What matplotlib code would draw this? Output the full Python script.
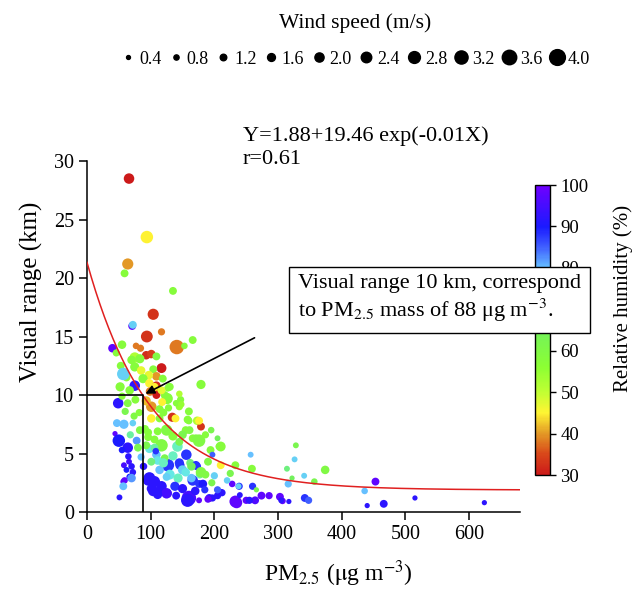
import matplotlib
matplotlib.use("Agg")
import matplotlib.pyplot as plt
from matplotlib.colors import LinearSegmentedColormap
from matplotlib.lines import Line2D
import numpy as np

plt.rcParams["font.family"] = ["Liberation Serif", "DejaVu Serif"]
plt.rcParams["mathtext.fontset"] = "stix"

# PM2.5 (ug m-3), visual range (km), relative humidity (%), wind speed (m/s)
pm25 = [66, 94, 64, 59, 135, 104, 71, 72, 117, 94, 166, 141, 40, 55, 46, 77, 84, 75, 153, 93,
        101, 109, 70, 83, 75, 53, 85, 117, 104, 109, 97, 88, 62, 57, 75, 52, 67, 98, 109, 99,
        108, 122, 119, 127, 179, 129, 147, 145, 160, 134, 139, 158, 173, 179, 155, 176, 166, 207, 205, 194,
        197, 257, 210, 233, 259, 142, 146, 162, 173, 186, 166, 176, 160, 176, 192, 210, 228, 233, 250, 264,
        274, 239, 328, 326, 374, 314, 341, 322, 316, 357, 260, 266, 286, 303, 307, 317, 342, 348, 255, 235,
        240, 453, 436, 515, 624, 466, 440, 305, 212, 238, 205, 197, 190, 158, 140, 127, 114, 101, 96, 51,
        57, 67, 72, 88, 85, 127, 145, 156, 171, 182, 205, 114, 130, 143, 164, 177, 164, 179, 190, 210,
        122, 171, 161, 176, 160, 126, 130, 109, 117, 101, 114, 101, 114, 111, 125, 96, 106, 117, 109, 98,
        91, 49, 64, 47, 58, 72, 74, 83, 44, 50, 64, 78, 80, 65, 66, 70, 59, 70, 89, 98,
        106, 117, 104, 125, 111, 96, 93, 106, 111, 101, 108, 120, 135, 150, 125, 155, 138, 150, 170, 185,
        196, 220, 225, 200, 150, 135, 145, 195, 186, 120, 128, 140, 118, 145, 148, 60, 55, 76, 82, 68,
        55, 58, 62, 57, 106, 93]
vis = [28.5, 23.5, 21.2, 20.4, 18.9, 16.9, 15.9, 16.0, 15.4, 15.0, 14.7, 14.1, 14.0, 14.3, 13.6, 14.2, 14.0, 13.2, 14.2, 13.4,
       13.5, 13.3, 13.0, 13.1, 12.4, 12.5, 12.1, 12.3, 12.2, 11.6, 11.7, 11.4, 11.5, 11.8, 10.8, 10.7, 10.4, 11.0, 10.8, 10.3,
       10.3, 10.0, 11.4, 10.6, 10.9, 10.7, 9.6, 9.0, 8.6, 8.1, 8.0, 7.9, 7.8, 7.3, 7.0, 6.1, 6.3, 5.6, 6.3, 5.3,
       4.9, 4.9, 4.0, 4.0, 3.7, 5.6, 4.0, 4.2, 3.9, 3.2, 2.7, 2.4, 1.2, 1.0, 1.2, 1.7, 2.4, 0.9, 1.0, 1.0,
       1.4, 2.2, 5.7, 4.5, 3.6, 3.7, 3.1, 2.9, 2.4, 2.6, 2.2, 1.9, 1.4, 1.3, 0.95, 0.9, 1.2, 1.0, 1.0, 0.8,
       1.45, 2.6, 1.8, 1.2, 0.8, 0.7, 0.55, 1.0, 1.65, 2.2, 1.4, 1.2, 1.1, 1.0, 1.4, 1.6, 1.7, 2.0, 2.7, 1.25,
       2.6, 3.0, 3.4, 3.9, 4.7, 4.0, 4.2, 4.9, 4.0, 2.4, 1.9, 3.6, 3.2, 2.9, 2.9, 3.2, 3.9, 3.4, 4.3, 5.6,
       4.6, 6.3, 7.0, 7.8, 7.8, 9.7, 10.7, 10.0, 10.4, 9.0, 8.8, 8.0, 8.0, 6.9, 7.0, 6.4, 6.2, 5.7, 4.9, 5.4,
       7.1, 9.3, 9.3, 7.6, 7.5, 7.6, 8.2, 7.0, 6.7, 6.1, 5.5, 6.1, 5.5, 4.75, 4.3, 3.9, 2.7, 2.9, 3.9, 2.9,
       2.6, 2.2, 1.8, 1.6, 1.5, 6.8, 5.7, 5.5, 4.4, 4.3, 5.2, 4.2, 4.8, 3.6, 3.0, 3.4, 2.2, 2.0, 1.8, 1.9,
       2.5, 2.7, 3.3, 3.1, 6.6, 6.5, 6.0, 7.0, 6.6, 8.5, 8.9, 9.3, 9.4, 10.1, 9.2, 8.6, 9.9, 9.6, 8.5, 6.6,
       5.3, 4.0, 3.6, 2.2, 10.7, 9.5]
rh = [30, 45, 40, 58, 58, 33, 98, 78, 38, 33, 58, 38, 98, 58, 58, 38, 38, 52, 58, 32,
      34, 60, 58, 58, 58, 58, 47, 30, 58, 40, 47, 58, 58, 78, 92, 58, 58, 45, 32, 38,
      40, 58, 58, 58, 58, 52, 58, 55, 58, 33, 45, 58, 52, 33, 58, 60, 58, 58, 65, 58,
      85, 80, 45, 58, 58, 72, 88, 68, 88, 60, 88, 88, 95, 98, 92, 92, 98, 98, 98, 96,
      98, 88, 62, 78, 60, 68, 78, 65, 80, 62, 88, 62, 98, 98, 98, 92, 88, 85, 92, 98,
      92, 98, 80, 92, 92, 92, 92, 92, 92, 78, 92, 92, 98, 92, 92, 92, 92, 92, 92, 92,
      98, 90, 92, 92, 80, 88, 88, 88, 88, 90, 85, 80, 75, 72, 80, 72, 65, 60, 60, 58,
      62, 60, 60, 45, 58, 58, 58, 30, 47, 40, 58, 45, 58, 58, 60, 58, 58, 60, 80, 75,
      58, 92, 60, 80, 80, 78, 60, 60, 98, 90, 92, 82, 62, 92, 95, 92, 98, 82, 92, 92,
      92, 92, 92, 95, 92, 58, 62, 70, 75, 68, 88, 72, 72, 78, 78, 75, 88, 92, 92, 88,
      62, 78, 62, 78, 62, 58, 62, 62, 58, 58, 58, 58, 45, 52, 55, 62, 58, 58, 58, 70,
      90, 95, 90, 80, 45, 42]
ws = [2.4, 3.0, 2.6, 1.6, 1.6, 2.6, 1.6, 1.6, 1.4, 2.8, 1.6, 3.6, 1.8, 1.8, 1.4, 1.2, 1.4, 2.4, 1.2, 1.8,
      1.8, 1.6, 1.8, 2.0, 2.0, 1.6, 1.8, 2.2, 1.6, 1.8, 1.8, 2.0, 1.6, 3.0, 2.4, 2.0, 1.8, 1.8, 1.8, 1.8,
      1.6, 1.6, 1.6, 1.4, 2.0, 1.4, 1.4, 1.4, 1.6, 2.0, 1.6, 1.6, 1.8, 1.6, 1.6, 3.0, 1.6, 1.2, 1.0, 1.6,
      1.0, 1.0, 1.6, 1.6, 1.6, 2.4, 2.0, 1.6, 1.6, 1.6, 2.4, 1.6, 3.6, 1.0, 1.6, 1.2, 1.2, 2.8, 1.4, 1.6,
      1.6, 1.4, 1.0, 1.0, 1.8, 1.0, 1.0, 0.8, 1.4, 1.2, 1.4, 0.8, 1.4, 1.6, 1.2, 0.8, 1.6, 1.4, 1.4, 2.6,
      1.0, 1.6, 1.2, 0.8, 0.8, 1.6, 0.8, 1.0, 1.4, 1.0, 1.4, 1.4, 1.4, 3.2, 1.6, 1.6, 1.6, 2.0, 2.4, 1.0,
      1.0, 1.2, 1.2, 1.2, 1.4, 3.0, 2.0, 2.4, 1.8, 1.8, 1.4, 1.8, 2.2, 2.0, 1.8, 1.6, 1.8, 2.4, 1.6, 2.2,
      1.6, 1.6, 1.6, 1.6, 1.4, 2.6, 1.6, 1.6, 1.6, 2.4, 1.6, 1.8, 1.6, 1.6, 2.6, 1.6, 1.6, 3.0, 1.8, 1.8,
      1.6, 2.4, 1.6, 1.6, 2.0, 1.2, 1.4, 1.6, 0.8, 3.0, 2.4, 1.6, 1.6, 1.2, 1.0, 1.2, 1.2, 1.8, 1.4, 2.8,
      2.6, 2.4, 2.4, 2.4, 2.0, 1.6, 1.6, 1.6, 1.8, 1.6, 1.2, 2.0, 2.0, 2.0, 1.6, 1.8, 2.0, 2.0, 1.8, 1.4,
      1.4, 1.2, 1.4, 1.4, 1.8, 2.0, 1.6, 1.2, 1.4, 1.6, 1.4, 1.2, 1.6, 1.2, 1.2, 1.4, 1.4, 1.6, 1.4, 1.4,
      1.2, 1.0, 1.0, 1.6, 1.6, 2.0]

legend_ws = [0.4, 0.8, 1.2, 1.6, 2.0, 2.4, 2.8, 3.2, 3.6, 4.0]

# fit: Y = a + b*exp(-k*X)
fit_a, fit_b, fit_k = 1.88, 19.46, 0.01
vr_target, pm_at_target = 10, 88


def marker_pt(w):
    # marker diameter in points for a wind speed
    return (2.6 + 3.3 * np.asarray(w)) * 0.72


rh_nodes = [30, 35, 40, 45, 50, 56, 66, 74, 80, 85, 90, 100]
rh_colors = ["#cc1a1a", "#d9481a", "#e39a26", "#fff533", "#c0ff33", "#8cff33",
             "#70f060", "#66f0e0", "#66c0ff", "#4060ff", "#1a1aff", "#7000ff"]
cmap = LinearSegmentedColormap.from_list(
    "rh", [((v - 30) / 70, c) for v, c in zip(rh_nodes, rh_colors)])

fig = plt.figure(figsize=(6.42, 5.92), dpi=100)
ax = fig.add_axes([0.1355, 0.1351, 0.6745, 0.5929])

sc = ax.scatter(pm25, vis, s=marker_pt(ws) ** 2, c=rh, cmap=cmap, vmin=30, vmax=100,
                edgecolors="none", zorder=2)

xs = np.linspace(0, 680, 400)
ax.plot(xs, fit_a + fit_b * np.exp(-fit_k * xs), color="#e02020", lw=1.1, zorder=3)

ax.plot([0, pm_at_target, pm_at_target], [vr_target, vr_target, 0], color="black", lw=1.2, zorder=3)
ax.annotate("", xy=(pm_at_target, vr_target), xytext=(267, 15),
            arrowprops=dict(arrowstyle="-|>", color="black", lw=1.2, mutation_scale=13), zorder=4)

ax.text(245, 32.1, "Y=1.88+19.46 exp(-0.01X)", fontsize=16, va="center")
ax.text(245, 30.1, "r=0.61", fontsize=16, va="center")

ax.set_xlim(0, 680)
ax.set_ylim(0, 30)
ax.set_xticks(range(0, 601, 100))
ax.set_yticks(range(0, 31, 5))
ax.spines["top"].set_visible(False)
ax.spines["right"].set_visible(False)
for sp in ["left", "bottom"]:
    ax.spines[sp].set_linewidth(1.1)
ax.tick_params(direction="out", length=6, width=1.1, labelsize=14.5)
ax.set_xlabel(r"PM$_{2.5}$ ($\mathrm{\mu}$g m$^{\mathrm{-3}}$)", fontsize=17, labelpad=10)
ax.set_ylabel("Visual range (km)", fontsize=18, labelpad=8)
ax.xaxis.label.set_x(0.58)
ax.yaxis.label.set_y(0.627)

cax = fig.add_axes([0.8333, 0.1976, 0.0234, 0.4899])
cb = fig.colorbar(sc, cax=cax, ticks=range(30, 101, 10))
cb.ax.tick_params(labelsize=13.5, length=4, width=1)
cb.outline.set_linewidth(1)
cb.set_label("Relative humidity (%)", fontsize=15, labelpad=18)
cb.ax.yaxis.label.set_y(0.61)

fig.text(298 / 642, 1 - 299 / 592,
         "Visual range 10 km, correspond\nto PM$_{2.5}$ mass of 88 \u03bcg m$^{\\mathrm{-3}}$.",
         fontsize=16, va="center", ha="left", linespacing=1.2,
         bbox=dict(boxstyle="square,pad=0.4", fc="white", ec="black", lw=1))

# wind speed size legend
handles = [Line2D([], [], marker="o", ls="none", color="black", markersize=marker_pt(w))
           for w in legend_ws]
fig.text(355 / 642, 1 - 23 / 592, "Wind speed (m/s)", fontsize=15.5, ha="center", va="center")
fig.legend(handles, [f"{w:.1f}" for w in legend_ws], loc="center", ncol=10,
           bbox_to_anchor=(355 / 642, 1 - 59 / 592), frameon=False, fontsize=13,
           handlelength=0.9, handletextpad=0.15, columnspacing=0.35, borderpad=0)

fig.savefig("out.png", dpi=100)
